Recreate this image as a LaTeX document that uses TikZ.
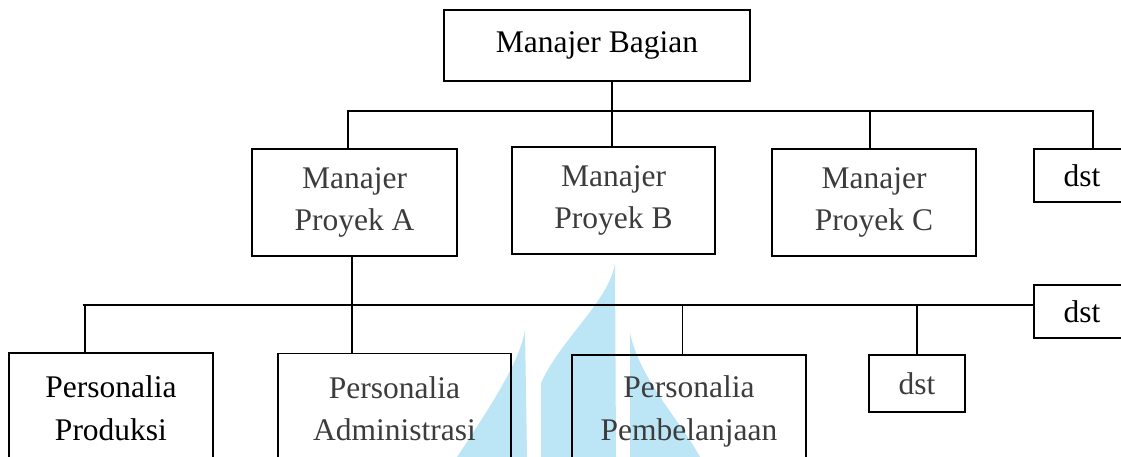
\documentclass[tikz,border=0pt]{standalone}
\usepackage{fontspec}
\setmainfont{Liberation Serif}
\definecolor{wmblue}{RGB}{188,229,246}
\definecolor{txtgray}{RGB}{60,60,60}
\begin{document}
\begin{tikzpicture}[x=1pt,y=-1pt,
  box/.style={draw=black, line width=1.4pt, rectangle, inner sep=0pt, align=center,
    font=\fontsize{31.5}{42.5}\selectfont},
  conn/.style={draw=black, line width=1.4pt}]
\useasboundingbox (0,0) rectangle (1121,457);
% watermark
\fill[wmblue] (457,457) .. controls (495,400) and (520,360) .. (525,330) -- (527,457) -- cycle;
\fill[wmblue] (541,457) -- (541,383) .. controls (560,340) and (610,300) .. (615,263) -- (616,457) -- cycle;
\fill[wmblue] (630,457) -- (630,333) .. controls (640,380) and (680,420) .. (700,457) -- cycle;
% nodes
\node[box, minimum width=306pt, minimum height=71pt] (mb) at (597,45.5) {\raisebox{2pt}{Manajer Bagian}};
\node[box, minimum width=205pt, minimum height=107pt, text=txtgray] (A) at (354.5,202.5) {Manajer\\Proyek A};
\node[box, minimum width=203pt, minimum height=107pt, text=txtgray] (B) at (613.5,200.5) {Manajer\\Proyek B};
\node[box, minimum width=204pt, minimum height=107pt, text=txtgray] (C) at (874,202.5) {Manajer\\Proyek C};
\node[box, minimum width=96pt, minimum height=53pt] (d1) at (1082,175.5) {dst};
\node[box, minimum width=96pt, minimum height=53pt] (d2) at (1082,311.5) {dst};
\node[box, minimum width=96pt, minimum height=57pt, text=txtgray] (d3) at (917,383.5) {dst};
\node[box, minimum width=204pt, minimum height=110pt] (P1) at (111,408) {Personalia\\Produksi};
\node[box, minimum width=233pt, minimum height=110pt, text=txtgray] (P2) at (394.5,408.5) {Personalia\\Administrasi};
\node[box, minimum width=234pt, minimum height=113pt, text=txtgray] (P3) at (689,411.5) {Personalia\\Pembelanjaan};
% connectors
\coordinate (h1) at (0,111);
\coordinate (h2) at (0,305);
\draw[conn] ([xshift=-1.5pt]B.north) -- ([xshift=-1.5pt]B.north |- mb.south);
\draw[conn] ([xshift=-6.5pt]A.north) |- ([xshift=11pt]d1.north |- h1) -- ([xshift=11pt]d1.north);
\draw[conn] ([xshift=-4pt]C.north) -- ([xshift=-4pt]C.north |- h1);
\draw[conn] ([xshift=-2.5pt]A.south) -- ([xshift=-2.5pt]A.south |- P2.north);
\draw[conn] ([xshift=-26pt]P1.north) -- ([xshift=-26pt]P1.north |- h2) -- ([xshift=-28pt]P1.north |- h2);
\draw[conn] ([xshift=-28pt]P1.north |- h2) -- ([yshift=6.5pt]d2.west);
\draw[conn] ([xshift=-6.5pt]P3.north) -- ([xshift=-6.5pt]P3.north |- h2);
\draw[conn] (d3.north) -- (d3.north |- h2);
\end{tikzpicture}
\end{document}
